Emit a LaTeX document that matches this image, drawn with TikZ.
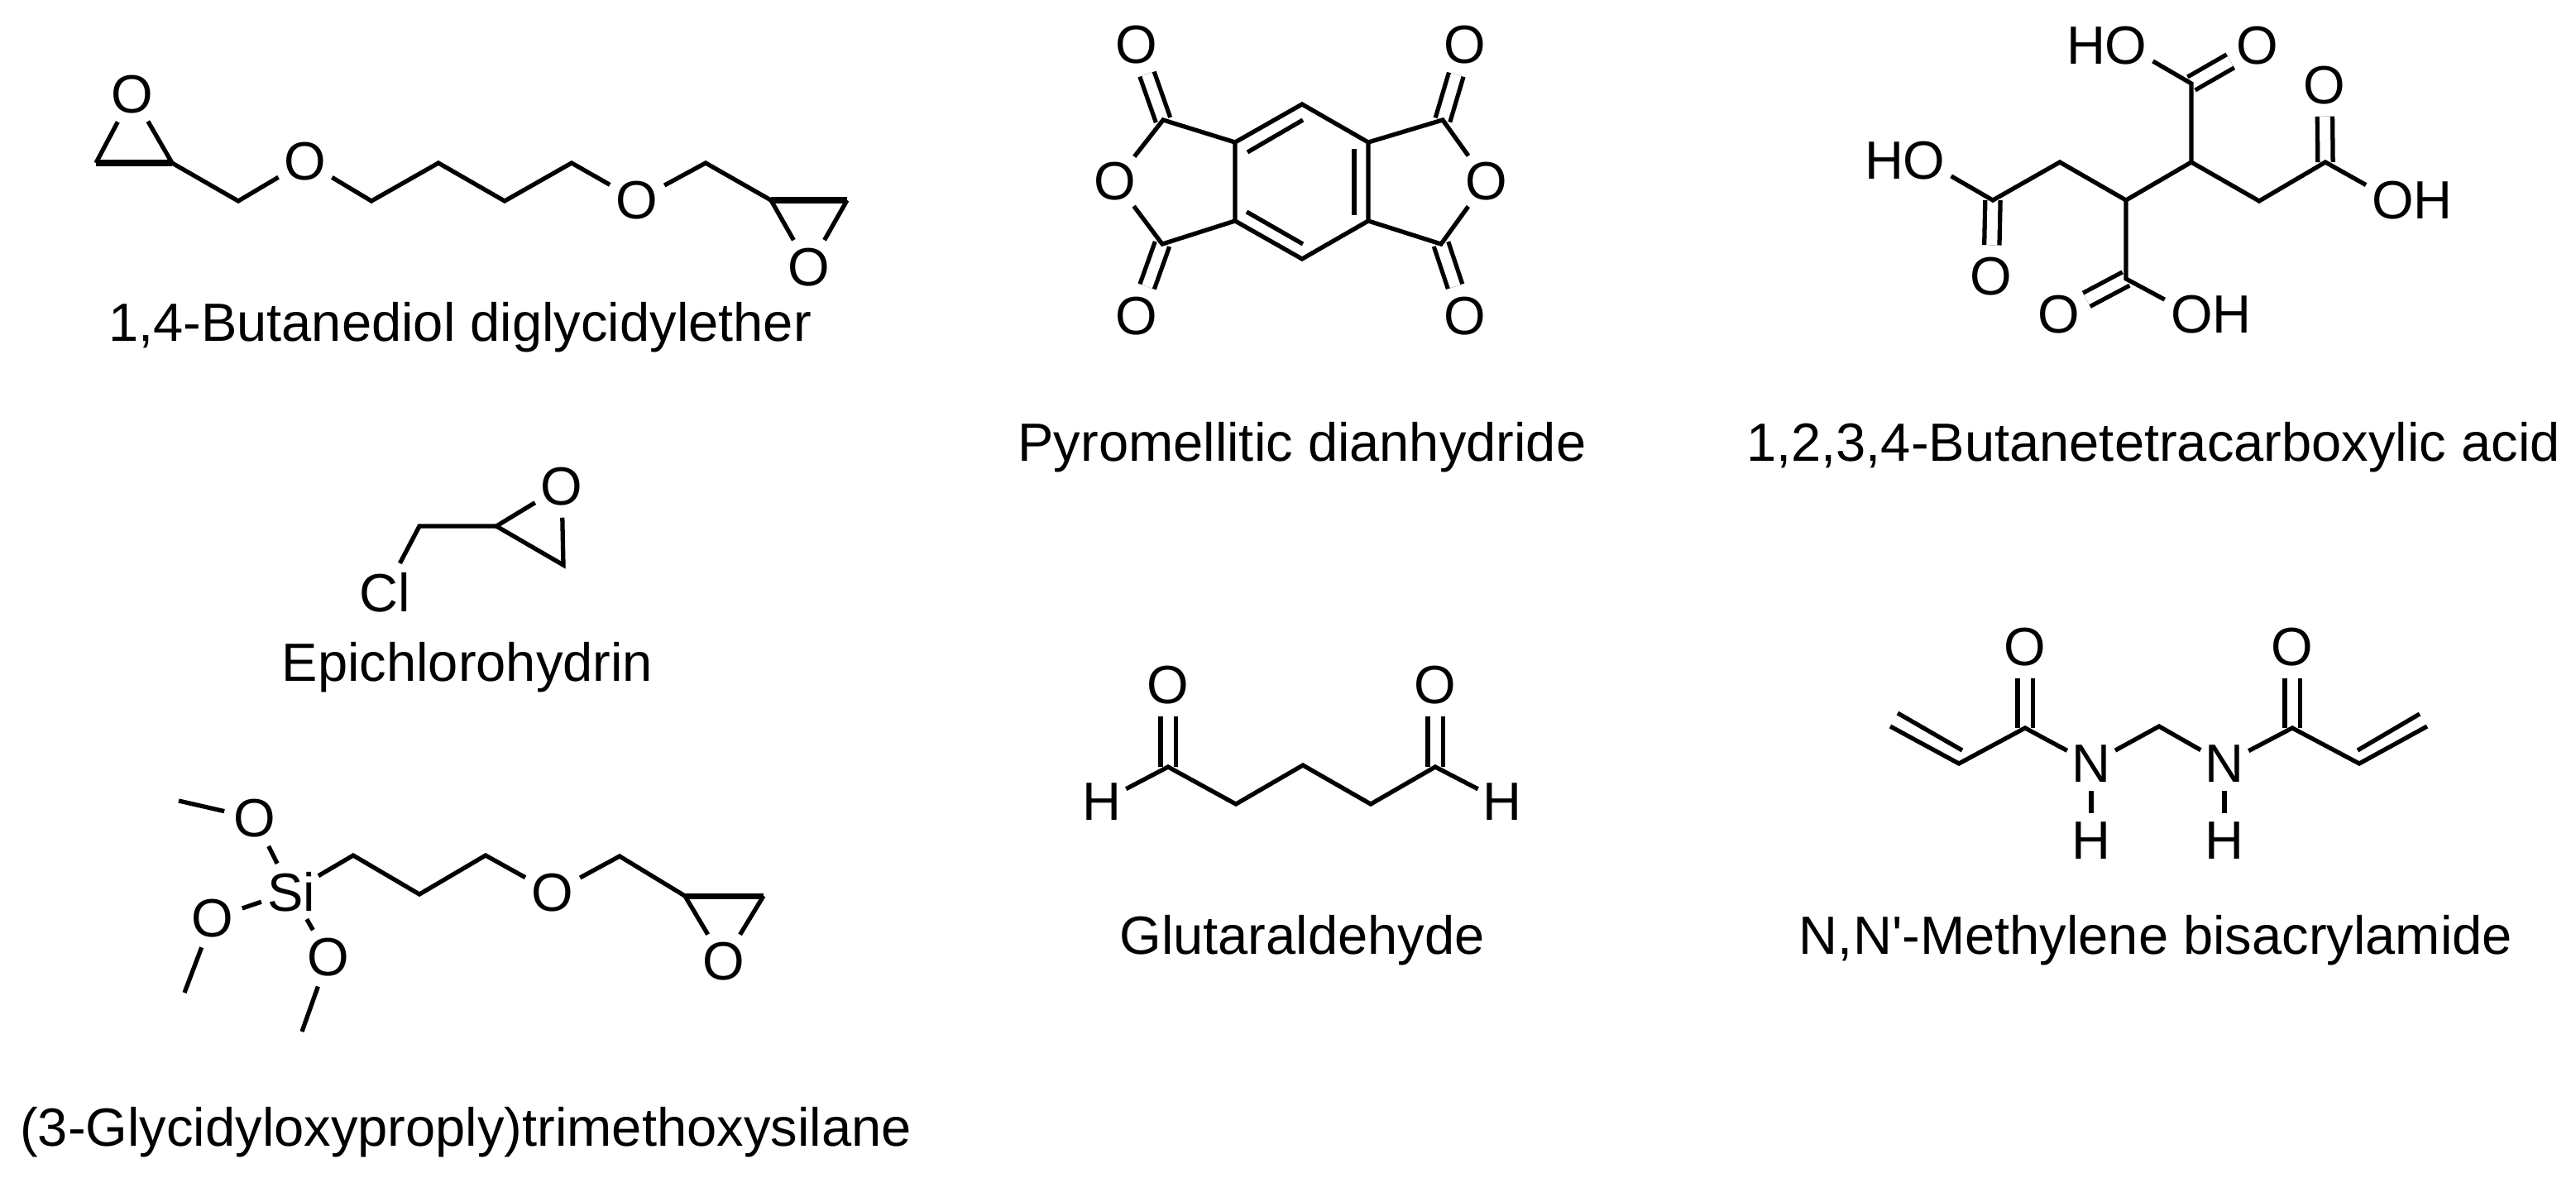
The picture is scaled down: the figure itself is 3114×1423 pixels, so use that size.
\documentclass[tikz,border=0pt]{standalone}
\usepackage{fontspec}
\setmainfont{Liberation Sans}
\usepackage{tikz}
\usetikzlibrary{calc, positioning}

\tikzset{
    bond/.style = {line width = 1.5pt},
    bondh/.style = {line width = 2pt},
    dbl/.style = {line width = 1.5pt, double, double distance = 0.13cm},
    atom/.style = {circle, inner sep = 0pt, minimum size = 0.74cm, font = \fontsize{18.5pt}{22pt}\selectfont},
    atomsm/.style = {atom, minimum size = 0.64cm},
    molname/.style = {anchor = base, inner sep = 0pt, font = \fontsize{18.5pt}{22pt}\selectfont}
}

\begin{document}
\begin{tikzpicture}[x = 0.01cm, y = -0.01cm]
            \useasboundingbox (0,0) rectangle (3114,1423);

            \node[atom] (bo1) at (160,114) {O};
            \node[atom] (bo2) at (369,195) {O};
            \node[atom] (bo3) at (770,242) {O};
            \node[atom] (bo4) at (978,323) {O};
            \coordinate (ba1) at (116,197);
            \coordinate (ba2) at (208,197);
            \coordinate (ba3) at (288,243);
            \coordinate (ba4) at (449,243);
            \coordinate (ba5) at (530,197);
            \coordinate (ba6) at (610,243);
            \coordinate (ba7) at (691,197);
            \coordinate (ba8) at (853,197);
            \coordinate (ba9) at (932,242);
            \coordinate (ba10) at (1024,242);
            \draw[bond] (bo1) -- (ba1);
            \draw[bond] (bo1) -- (ba2);
            \draw[bondh] (ba1) -- (ba2);
            \draw[bond] (ba2) -- (ba3) -- (bo2);
            \draw[bond] (bo2) -- (ba4) -- (ba5) -- (ba6) -- (ba7) -- (bo3);
            \draw[bond] (bo3) -- (ba8) -- (ba9);
            \draw[bondh] (ba9) -- (ba10);
            \draw[bond] (ba9) -- (bo4);
            \draw[bond] (ba10) -- (bo4);
            \node[molname] (bname) at (556,412) {1,4-Butanediol diglycidylether};

            \node[atom] (eo) at (679,588) {O};
            \node[atom] (ecl) at (465,716) {Cl};
            \coordinate (ea1) at (600,636);
            \coordinate (ea2) at (681,683);
            \coordinate (ea3) at (507,636);
            \draw[bond] (eo) -- (ea1) -- (ea2) -- (eo);
            \draw[bond] (ea1) -- (ea3) -- (ecl);
            \node[molname] (ename) at (565,823) {Epichlorohydrin};

            \node[atom] (so1) at (308,989) {O};
            \node[atom] (so2) at (257,1110) {O};
            \node[atom] (so3) at (397,1157) {O};
            \node[atom] (so4) at (668,1079) {O};
            \node[atom] (so5) at (875,1162) {O};
            \node[atom] (si) at (352,1078) {Si};
            \coordinate (sm1) at (216,968);
            \coordinate (sm2) at (223,1200);
            \coordinate (sm3) at (365,1247);
            \coordinate (sa1) at (427,1034);
            \coordinate (sa2) at (507,1081);
            \coordinate (sa3) at (587,1034);
            \coordinate (sa4) at (749,1035);
            \coordinate (sa5) at (828,1083);
            \coordinate (sa6) at (923,1083);
            \draw[bond] (sm1) -- (so1);
            \draw[bond] (sm2) -- (so2);
            \draw[bond] (sm3) -- (so3);
            \draw[bond] (so1) -- (si);
            \draw[bond] (so2) -- (si);
            \draw[bond] (so3) -- (si);
            \draw[bond] (si) -- (sa1) -- (sa2) -- (sa3) -- (so4);
            \draw[bond] (so4) -- (sa4) -- (sa5);
            \draw[bondh] (sa5) -- (sa6);
            \draw[bond] (sa5) -- (so5);
            \draw[bond] (sa6) -- (so5);
            \node[molname] (sname) at (563,1385) {(3-Glycidyloxyproply)trimethoxysilane};

            \node[atom] (po1) at (1374,54) {O};
            \node[atom] (po2) at (1771,54) {O};
            \node[atom] (po3) at (1374,382) {O};
            \node[atom] (po4) at (1771,382) {O};
            \node[atom] (po5) at (1348,219) {O};
            \node[atom] (po6) at (1797,219) {O};
            \coordinate (pc1) at (1406,145);
            \coordinate (pc2) at (1744,145);
            \coordinate (pc3) at (1405,295);
            \coordinate (pc4) at (1742,295);
            \coordinate (pr1) at (1574,126);
            \coordinate (pr2) at (1654,172);
            \coordinate (pr3) at (1654,267);
            \coordinate (pr4) at (1574,313);
            \coordinate (pr5) at (1493,267);
            \coordinate (pr6) at (1493,172);
            \coordinate (pi1) at (1508,184);
            \coordinate (pi2) at (1575,145);
            \coordinate (pi3) at (1637,180);
            \coordinate (pi4) at (1637,260);
            \coordinate (pi5) at (1507,256);
            \coordinate (pi6) at (1575,295);
            \draw[dbl] (pc1) -- (po1);
            \draw[dbl] (pc2) -- (po2);
            \draw[dbl] (pc3) -- (po3);
            \draw[dbl] (pc4) -- (po4);
            \draw[bond] (pr1) -- (pr2) -- (pr3) -- (pr4) -- (pr5) -- (pr6) -- cycle;
            \draw[bond] (pi1) -- (pi2);
            \draw[bond] (pi3) -- (pi4);
            \draw[bond] (pi5) -- (pi6);
            \draw[bond] (pr6) -- (pc1) -- (po5);
            \draw[bond] (pr5) -- (pc3) -- (po5);
            \draw[bond] (pr2) -- (pc2) -- (po6);
            \draw[bond] (pr3) -- (pc4) -- (po6);
            \node[molname] (pname) at (1574,557) {Pyromellitic dianhydride};

            \node[atom] (go1) at (1412,828) {O};
            \node[atom] (go2) at (1735,828) {O};
            \node[atomsm] (gh1) at (1332,969) {H};
            \node[atomsm] (gh2) at (1816,969) {H};
            \coordinate (ga1) at (1412,927);
            \coordinate (ga2) at (1494,972);
            \coordinate (ga3) at (1575,925);
            \coordinate (ga4) at (1657,972);
            \coordinate (ga5) at (1735,927);
            \draw[dbl] (ga1) -- (go1);
            \draw[dbl] (ga5) -- (go2);
            \draw[bond] (gh1) -- (ga1) -- (ga2) -- (ga3) -- (ga4) -- (ga5) -- (gh2);
            \node[molname] (gname) at (1574,1153) {Glutaraldehyde};

            \node[atom] (co1) at (2570,55) {O};
            \node[atomsm] (ch1) at (2522,55) {H};
            \node[atom] (co2) at (2729,55) {O};
            \node[atom] (co3) at (2810,103) {O};
            \node[atom] (co4) at (2893,242) {O};
            \node[atomsm] (ch4) at (2941,242) {H};
            \node[atom] (co5) at (2326,194) {O};
            \node[atomsm] (ch5) at (2278,194) {H};
            \node[atom] (co6) at (2407,334) {O};
            \node[atom] (co7) at (2489,380) {O};
            \node[atom] (co8) at (2650,380) {O};
            \node[atomsm] (ch8) at (2698,380) {H};
            \coordinate (ca1) at (2649,101);
            \coordinate (ca2) at (2649,196);
            \coordinate (ca3) at (2731,243);
            \coordinate (ca4) at (2811,196);
            \coordinate (ca5) at (2570,242);
            \coordinate (ca6) at (2490,196);
            \coordinate (ca7) at (2409,242);
            \coordinate (ca8) at (2570,337);
            \draw[dbl] (ca1) -- (co2);
            \draw[dbl] (ca4) -- (co3);
            \draw[dbl] (ca7) -- (co6);
            \draw[dbl] (ca8) -- (co7);
            \draw[bond] (co1) -- (ca1) -- (ca2) -- (ca3) -- (ca4) -- (co4);
            \draw[bond] (co5) -- (ca7) -- (ca6) -- (ca5) -- (ca2);
            \draw[bond] (ca5) -- (ca8) -- (co8);
            \node[molname] (cname) at (2603,557) {1,2,3,4-Butanetetracarboxylic acid};

            \node[atom] (no1) at (2448,782) {O};
            \node[atom] (no2) at (2771,782) {O};
            \node[atomsm] (nn1) at (2528,923) {N};
            \node[atomsm] (nn2) at (2689,923) {N};
            \node[atomsm] (nh1) at (2528,1016) {H};
            \node[atomsm] (nh2) at (2689,1016) {H};
            \coordinate (na1) at (2285,878);
            \coordinate (na2) at (2368,923);
            \coordinate (na3) at (2448,880);
            \coordinate (na4) at (2610,878);
            \coordinate (na5) at (2771,880);
            \coordinate (na6) at (2852,923);
            \coordinate (na7) at (2934,878);
            \coordinate (ni1) at (2294,862);
            \coordinate (ni2) at (2372,907);
            \coordinate (ni3) at (2925,863);
            \coordinate (ni4) at (2850,907);
            \draw[dbl] (na3) -- (no1);
            \draw[dbl] (na5) -- (no2);
            \draw[bond] (na1) -- (na2) -- (na3) -- (nn1) -- (na4) -- (nn2) -- (na5) -- (na6) -- (na7);
            \draw[bond] (ni1) -- (ni2);
            \draw[bond] (ni3) -- (ni4);
            \draw[bond] (nn1) -- (nh1);
            \draw[bond] (nn2) -- (nh2);
            \node[molname] (nname) at (2606,1153) {N,N\textquotesingle-Methylene bisacrylamide};
        \end{tikzpicture}
\end{document}
